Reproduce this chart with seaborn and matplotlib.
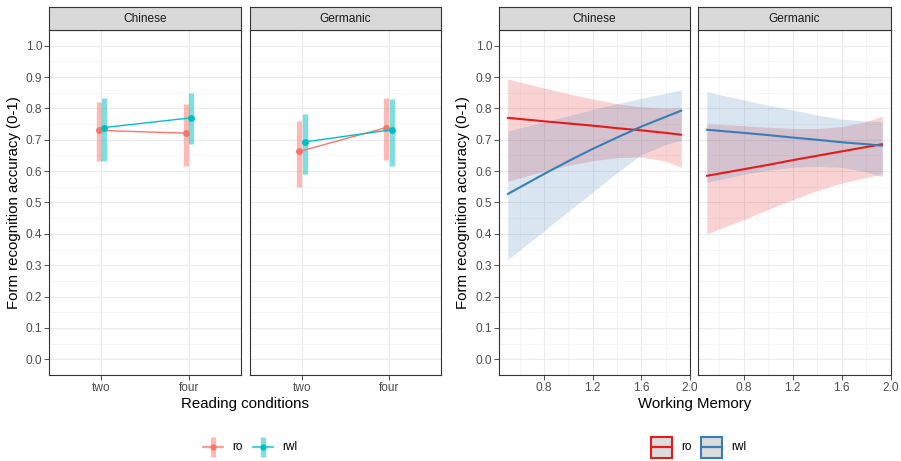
import matplotlib
matplotlib.use("Agg")
import matplotlib.pyplot as plt
from matplotlib.lines import Line2D
from matplotlib.patches import Rectangle
from matplotlib.transforms import Affine2D
from matplotlib.ticker import MultipleLocator, FixedLocator
import numpy as np
import pandas as pd
import seaborn as sns

sns.set_theme(style="white")
plt.rcParams["font.family"] = ["Liberation Sans", "DejaVu Sans"]

# ---------------- data ----------------
languages = ["Chinese", "Germanic"]
conditions = ["two", "four"]
groups = ["ro", "rwl"]

# left chart: accuracy by reading condition (mean, lower, upper)
chinese_ro_acc = [0.730, 0.721]
chinese_ro_lo = [0.632, 0.617]
chinese_ro_hi = [0.821, 0.815]
chinese_rwl_acc = [0.739, 0.770]
chinese_rwl_lo = [0.633, 0.685]
chinese_rwl_hi = [0.833, 0.848]
germanic_ro_acc = [0.663, 0.739]
germanic_ro_lo = [0.550, 0.637]
germanic_ro_hi = [0.760, 0.832]
germanic_rwl_acc = [0.693, 0.732]
germanic_rwl_lo = [0.590, 0.616]
germanic_rwl_hi = [0.782, 0.831]

# right chart: predicted accuracy by working memory
wm = [0.5, 0.8, 1.0, 1.2, 1.4, 1.6, 1.8, 1.93]
ch_ro_fit = [0.770, 0.759, 0.752, 0.745, 0.737, 0.730, 0.722, 0.716]
ch_ro_lo = [0.567, 0.600, 0.618, 0.633, 0.643, 0.645, 0.632, 0.612]
ch_ro_hi = [0.894, 0.865, 0.847, 0.830, 0.815, 0.805, 0.801, 0.802]
ch_rwl_fit = [0.527, 0.591, 0.632, 0.671, 0.707, 0.742, 0.773, 0.793]
ch_rwl_lo = [0.318, 0.410, 0.472, 0.533, 0.595, 0.652, 0.685, 0.698]
ch_rwl_hi = [0.728, 0.757, 0.777, 0.797, 0.815, 0.832, 0.848, 0.859]
ge_ro_fit = [0.585, 0.606, 0.620, 0.635, 0.649, 0.663, 0.677, 0.686]
ge_ro_lo = [0.400, 0.445, 0.478, 0.509, 0.538, 0.562, 0.580, 0.590]
ge_ro_hi = [0.751, 0.745, 0.740, 0.736, 0.736, 0.742, 0.758, 0.776]
ge_rwl_fit = [0.732, 0.722, 0.715, 0.707, 0.700, 0.692, 0.686, 0.681]
ge_rwl_lo = [0.564, 0.590, 0.603, 0.612, 0.615, 0.612, 0.598, 0.582]
ge_rwl_hi = [0.853, 0.827, 0.810, 0.795, 0.779, 0.766, 0.760, 0.758]

left_pal = {"ro": "#F8766D", "rwl": "#00BFC4"}
right_pal = {"ro": "#E41A1C", "rwl": "#377EB8"}

left_data = {
    "Chinese": {"ro": (chinese_ro_acc, chinese_ro_lo, chinese_ro_hi),
                "rwl": (chinese_rwl_acc, chinese_rwl_lo, chinese_rwl_hi)},
    "Germanic": {"ro": (germanic_ro_acc, germanic_ro_lo, germanic_ro_hi),
                 "rwl": (germanic_rwl_acc, germanic_rwl_lo, germanic_rwl_hi)},
}
right_data = {
    "Chinese": {"ro": (ch_ro_fit, ch_ro_lo, ch_ro_hi),
                "rwl": (ch_rwl_fit, ch_rwl_lo, ch_rwl_hi)},
    "Germanic": {"ro": (ge_ro_fit, ge_ro_lo, ge_ro_hi),
                 "rwl": (ge_rwl_fit, ge_rwl_lo, ge_rwl_hi)},
}

# ---------------- layout ----------------
W, H = 901, 461
fig = plt.figure(figsize=(W / 100, H / 100), dpi=100)
fig.patch.set_facecolor("white")
# pixel coordinates measured from the top-left corner
PIX = Affine2D().scale(1 / W, -1 / H).translate(0, 1) + fig.transFigure

SMALL = 8.6
TITLE = 10.8
EDGE = "#333333"
TICKC = "#4D4D4D"

def px_axes(x0, x1, ytop, ybot):
    return fig.add_axes([x0 / W, 1 - ybot / H, (x1 - x0) / W, (ybot - ytop) / H])

def style_panel(ax, show_y):
    ax.set_facecolor("white")
    for s in ax.spines.values():
        s.set_color(EDGE)
        s.set_linewidth(0.8)
        s.set_visible(True)
    ax.set_ylim(-0.05, 1.05)
    ax.yaxis.set_major_locator(MultipleLocator(0.1))
    ax.yaxis.set_minor_locator(MultipleLocator(0.05))
    ax.grid(True, which="major", color="#EBEBEB", lw=0.8, zorder=0)
    ax.grid(True, which="minor", color="#F3F3F3", lw=0.5, zorder=0)
    ax.set_axisbelow(True)
    ax.tick_params(axis="both", which="major", direction="out", length=3.4, width=0.6,
                   color=EDGE, labelsize=SMALL, labelcolor=TICKC, pad=1.5,
                   bottom=True, left=show_y, labelleft=show_y)
    ax.tick_params(axis="both", which="minor", length=0)
    if show_y:
        ax.set_yticks(np.round(np.arange(0, 1.01, 0.1), 1))
        ax.set_yticklabels([f"{v:.1f}" for v in np.arange(0, 1.01, 0.1)])
    ax.set_xlabel("")
    ax.set_ylabel("")

def strip(x0, x1, label):
    sax = px_axes(x0, x1, 7, 30)
    sax.set_facecolor("#D9D9D9")
    sax.set_xticks([]); sax.set_yticks([])
    for s in sax.spines.values():
        s.set_color(EDGE); s.set_linewidth(0.8); s.set_visible(True)
    sax.text(0.5, 0.47, label, ha="center", va="center", fontsize=SMALL,
             color="#1A1A1A", transform=sax.transAxes)

left_x = [(49, 241), (250, 441)]
right_x = [(499, 690), (698, 891)]
offsets = {"ro": -0.03, "rwl": 0.03}

# ---------------- left chart ----------------
for i, lang in enumerate(languages):
    ax = px_axes(left_x[i][0], left_x[i][1], 30, 375)
    rows = []
    for g in groups:
        acc, lo, hi = left_data[lang][g]
        for j, c in enumerate(conditions):
            rows.append({"cond": c, "group": g, "acc": acc[j], "lo": lo[j], "hi": hi[j],
                         "xpos": j + offsets[g]})
    df = pd.DataFrame(rows)
    for g in groups:
        sub = df[df.group == g]
        ax.vlines(sub.xpos, sub.lo, sub.hi, colors=left_pal[g], lw=3.8, alpha=0.5, zorder=2)
    sns.lineplot(data=df, x="xpos", y="acc", hue="group", palette=left_pal,
                 hue_order=groups, marker="o", markersize=5, markeredgewidth=0,
                 lw=1.0, legend=False, ax=ax, zorder=3)
    ax.set_xlim(-0.6, 1.6)
    ax.set_xticks([0, 1])
    ax.set_xticklabels(conditions)
    style_panel(ax, show_y=(i == 0))
    strip(left_x[i][0], left_x[i][1], lang)

# ---------------- right chart ----------------
for i, lang in enumerate(languages):
    ax = px_axes(right_x[i][0], right_x[i][1], 30, 375)
    for g in groups:
        fit, lo, hi = right_data[lang][g]
        ax.fill_between(wm, lo, hi, color=right_pal[g], alpha=0.19, lw=0, zorder=2)
    for g in groups:
        fit, lo, hi = right_data[lang][g]
        sns.lineplot(x=wm, y=fit, color=right_pal[g], lw=1.5, ax=ax, zorder=3)
    ax.set_xlim(0.4285, 2.0015)
    ax.xaxis.set_major_locator(FixedLocator([0.8, 1.2, 1.6, 2.0]))
    ax.xaxis.set_minor_locator(FixedLocator([0.6, 1.0, 1.4, 1.8]))
    ax.set_xticklabels(["0.8", "1.2", "1.6", "2.0"])
    style_panel(ax, show_y=(i == 0))
    strip(right_x[i][0], right_x[i][1], lang)

# ---------------- axis titles ----------------
ylab = "Form recognition accuracy (0-1)"
fig.text(14 / W, 1 - 202.5 / H, ylab, rotation=90, ha="center", va="center",
         fontsize=TITLE, color="black")
fig.text(463 / W, 1 - 202.5 / H, ylab, rotation=90, ha="center", va="center",
         fontsize=TITLE, color="black")
fig.text(245 / W, 1 - 404 / H, "Reading conditions", ha="center", va="center",
         fontsize=TITLE, color="black")
fig.text(694.5 / W, 1 - 404 / H, "Working Memory", ha="center", va="center",
         fontsize=TITLE, color="black")

# ---------------- legends (drawn in pixel coordinates) ----------------
LY = 447
left_keys = {"ro": (213, 232), "rwl": (263, 282)}
for g in groups:
    xc, xt = left_keys[g]
    c = left_pal[g]
    fig.add_artist(Line2D([xc - 10, xc + 10], [LY, LY], transform=PIX, color=c,
                          lw=1.6, alpha=0.7))
    fig.add_artist(Line2D([xc, xc], [LY - 10, LY + 10], transform=PIX, color=c,
                          lw=3.8, alpha=0.5, solid_capstyle="butt"))
    fig.add_artist(Line2D([xc], [LY], transform=PIX, color=c, marker="o",
                          markersize=4.5, mew=0, ls="none"))
    fig.text(xt / W, 1 - LY / H, g, ha="left", va="center", fontsize=SMALL,
             color="black")

right_keys = {"ro": (650, 681), "rwl": (700, 731)}
for g in groups:
    x0, xt = right_keys[g]
    c = right_pal[g]
    fig.add_artist(Rectangle((x0 + 1, LY - 10.5), 21, 21, transform=PIX,
                             facecolor="#DCDCDC", edgecolor=c, lw=1.5))
    fig.add_artist(Line2D([x0 + 1.5, x0 + 21.5], [LY, LY], transform=PIX, color=c,
                          lw=1.6))
    fig.text(xt / W, 1 - LY / H, g, ha="left", va="center", fontsize=SMALL,
             color="black")

fig.savefig("out.png", dpi=100, facecolor="white")
